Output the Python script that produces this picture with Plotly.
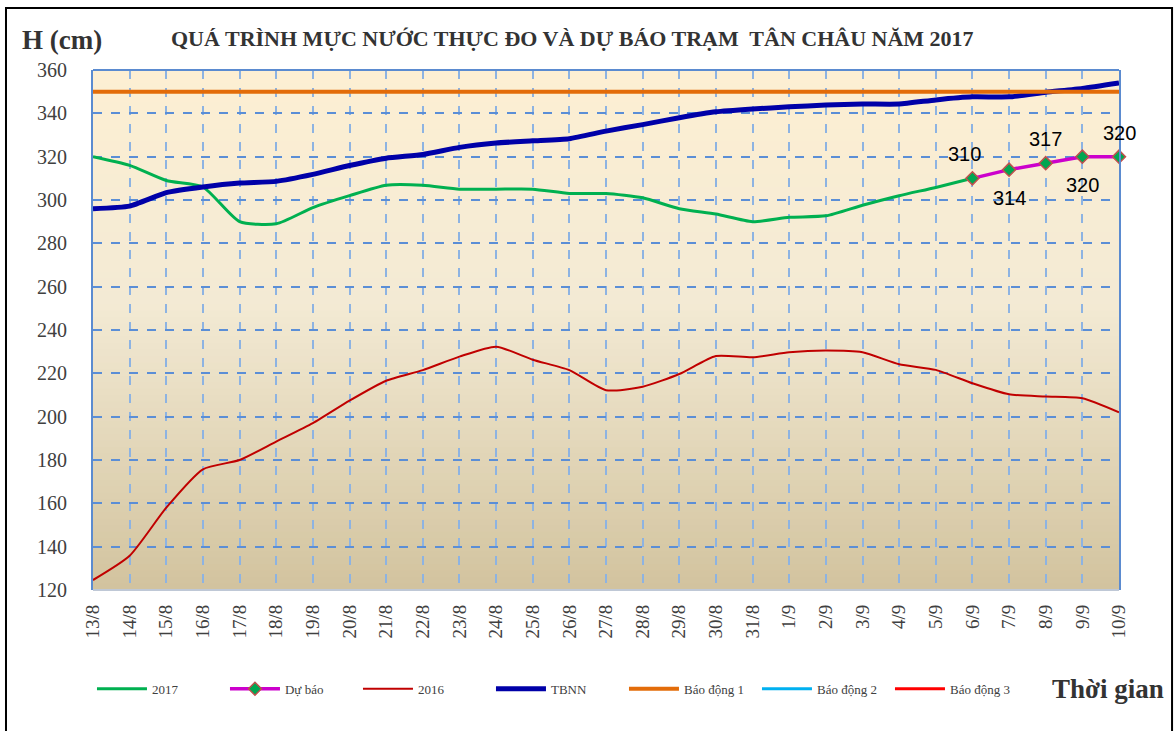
import plotly.graph_objects as go

# ---------------- data ----------------
dates = ["13/8", "14/8", "15/8", "16/8", "17/8", "18/8", "19/8", "20/8", "21/8", "22/8",
         "23/8", "24/8", "25/8", "26/8", "27/8", "28/8", "29/8", "30/8", "31/8", "1/9",
         "2/9", "3/9", "4/9", "5/9", "6/9", "7/9", "8/9", "9/9", "10/9"]

h2017 = [320, 316, 309, 306, 290, 289, 296.5, 302, 306.8, 306.8,
         305, 305, 305, 303, 303, 301, 296, 293.5, 290, 292,
         292.7, 297.6, 302, 305.8, 310]

forecast_dates = ["6/9", "7/9", "8/9", "9/9", "10/9"]
forecast = [310, 314, 317, 320, 320]
forecast_label_side = ["above", "below", "above", "below", "above"]

h2016 = [124.6, 135.8, 158, 175.7, 180, 188.5, 197, 207.4, 216.6, 221.5,
         227.7, 232.3, 226.3, 221.5, 212.2, 213.8, 219.7, 228, 227.4, 229.7,
         230.5, 229.7, 224.2, 221.6, 215.4, 210.3, 209.3, 208.5, 202]

tbnn = [296, 297.2, 303.4, 306, 307.8, 308.6, 311.8, 315.9, 319.3, 321,
        324.3, 326.3, 327.3, 328.3, 331.8, 334.8, 338, 340.7, 342, 343,
        343.8, 344.3, 344.3, 346.2, 347.6, 347.6, 349.7, 351.5, 354]

bd1 = 350
bd2 = 400
bd3 = 450

yticks = [120, 140, 160, 180, 200, 220, 240, 260, 280, 300, 320, 340, 360]

SERIF = "Liberation Serif, Times New Roman, serif"

fig = go.Figure()

fig.add_trace(go.Scatter(x=dates[:len(h2017)], y=h2017, name="2017", mode="lines",
                         line=dict(color="#00B050", width=3, shape="spline", smoothing=0.6)))
fig.add_trace(go.Scatter(x=forecast_dates, y=forecast, name="Dự báo", mode="lines+markers",
                         line=dict(color="#CC00CC", width=3.5),
                         marker=dict(symbol="diamond", size=10, color="#00A651",
                                     line=dict(color="#C0504D", width=1.5)),
                         cliponaxis=False))
fig.add_trace(go.Scatter(x=dates, y=h2016, name="2016", mode="lines",
                         line=dict(color="#C00000", width=2, shape="spline", smoothing=0.6)))
fig.add_trace(go.Scatter(x=dates, y=tbnn, name="TBNN", mode="lines",
                         line=dict(color="#0000A8", width=5, shape="spline", smoothing=0.5)))
fig.add_trace(go.Scatter(x=[dates[0], dates[-1]], y=[bd1, bd1], name="Báo động 1", mode="lines",
                         line=dict(color="#E36C09", width=4)))
fig.add_trace(go.Scatter(x=[dates[0], dates[-1]], y=[bd2, bd2], name="Báo động 2", mode="lines",
                         line=dict(color="#00B0F0", width=3)))
fig.add_trace(go.Scatter(x=[dates[0], dates[-1]], y=[bd3, bd3], name="Báo động 3", mode="lines",
                         line=dict(color="#FF0000", width=3)))

# ---------------- background gradient ----------------
def lerp(c1, c2, t):
    return tuple(round(a + (b - a) * t) for a, b in zip(c1, c2))

top = (253, 239, 211)
mid = (243, 234, 212)
bot = (210, 195, 158)
shapes = []
N = 80
for i in range(N):
    y0 = i / N
    y1 = (i + 1) / N
    yc = (y0 + y1) / 2
    if yc >= 0.55:
        c = lerp(mid, top, (yc - 0.55) / 0.45)
    else:
        c = lerp(bot, mid, yc / 0.55)
    shapes.append(dict(type="rect", xref="x domain", yref="y domain", x0=0, x1=1, y0=y0, y1=y1 + 0.002,
                       fillcolor="rgb(%d,%d,%d)" % c, line=dict(width=0), layer="below"))
shapes.append(dict(type="line", xref="x domain", yref="y domain", x0=0, x1=1, y0=1, y1=1,
                   line=dict(color="#5B8BD0", width=2)))
shapes.append(dict(type="line", xref="x domain", yref="y domain", x0=0, x1=1, y0=0, y1=0,
                   line=dict(color="#BFC8D6", width=2)))
# outer frame
shapes.append(dict(type="rect", xref="paper", yref="paper", x0=-0.0848, x1=1.0517, y0=-0.3, y1=1.119,
                   line=dict(color="#000000", width=2), fillcolor="rgba(0,0,0,0)", layer="above"))

# forecast value labels
annotations = []
for d, v, side in zip(forecast_dates, forecast, forecast_label_side):
    annotations.append(dict(x=d, y=v, xref="x", yref="y", text=str(v), showarrow=False,
                            xanchor="center", yanchor="middle",
                            xshift=-8 if d == forecast_dates[0] else 0,
                            yshift=24 if side == "above" else -28,
                            font=dict(family="Liberation Sans, Arial, sans-serif", size=20, color="#000000")))

annotations += [
    dict(text="QUÁ TRÌNH MỰC NƯỚC THỰC ĐO VÀ DỰ BÁO TRẠM  TÂN CHÂU NĂM 2017",
         xref="paper", yref="paper", x=(572 - 93) / 1026, y=(590 - 38) / 520,
         xanchor="center", yanchor="middle", showarrow=False,
         font=dict(family=SERIF, size=22, color="#333333", weight="bold")),
    dict(text="H (cm)", xref="paper", yref="paper", x=(20 - 93) / 1026, y=(590 - 40) / 520,
         xanchor="left", yanchor="middle", showarrow=False,
         font=dict(family=SERIF, size=27, color="#333333", weight="bold")),
    dict(text="Thời gian", xref="paper", yref="paper", x=(1166 - 93) / 1026, y=(590 - 689) / 520,
         xanchor="right", yanchor="middle", showarrow=False,
         font=dict(family=SERIF, size=27, color="#333333", weight="bold")),
]

fig.update_layout(
    width=1175, height=731,
    paper_bgcolor="white", plot_bgcolor="rgba(0,0,0,0)",
    margin=dict(l=93, r=56, t=70, b=141),
    shapes=shapes,
    annotations=annotations,
    showlegend=True,
    legend=dict(orientation="h", x=-0.001, xanchor="left", y=-0.19, yanchor="middle",
                font=dict(family=SERIF, size=13, color="#404040"),
                entrywidth=68, itemwidth=50, bgcolor="rgba(0,0,0,0)", tracegroupgap=0),
)

fig.update_xaxes(type="category", categoryorder="array", categoryarray=dates,
                 range=[0, len(dates) - 1], tickmode="array", tickvals=dates, ticktext=dates,
                 tickangle=-90, tickfont=dict(family=SERIF, size=19, color="#404040"),
                 showgrid=True, gridcolor="#8DB3E2", gridwidth=2, griddash="dash",
                 showline=False, zeroline=False, ticks="", ticklabelstandoff=10)
fig.update_yaxes(range=[120, 360], tickmode="array", tickvals=yticks,
                 tickfont=dict(family=SERIF, size=20, color="#404040"),
                 showgrid=True, gridcolor="#5B8ED6", gridwidth=2, griddash="dash",
                 showline=True, linecolor="#5B8BD0", linewidth=2, mirror=True,
                 zeroline=False, ticks="", ticklabelstandoff=20)

fig.write_html("out.html", config={"displayModeBar": False},
               post_script="document.body.style.margin='0';document.body.style.overflow='hidden';")
